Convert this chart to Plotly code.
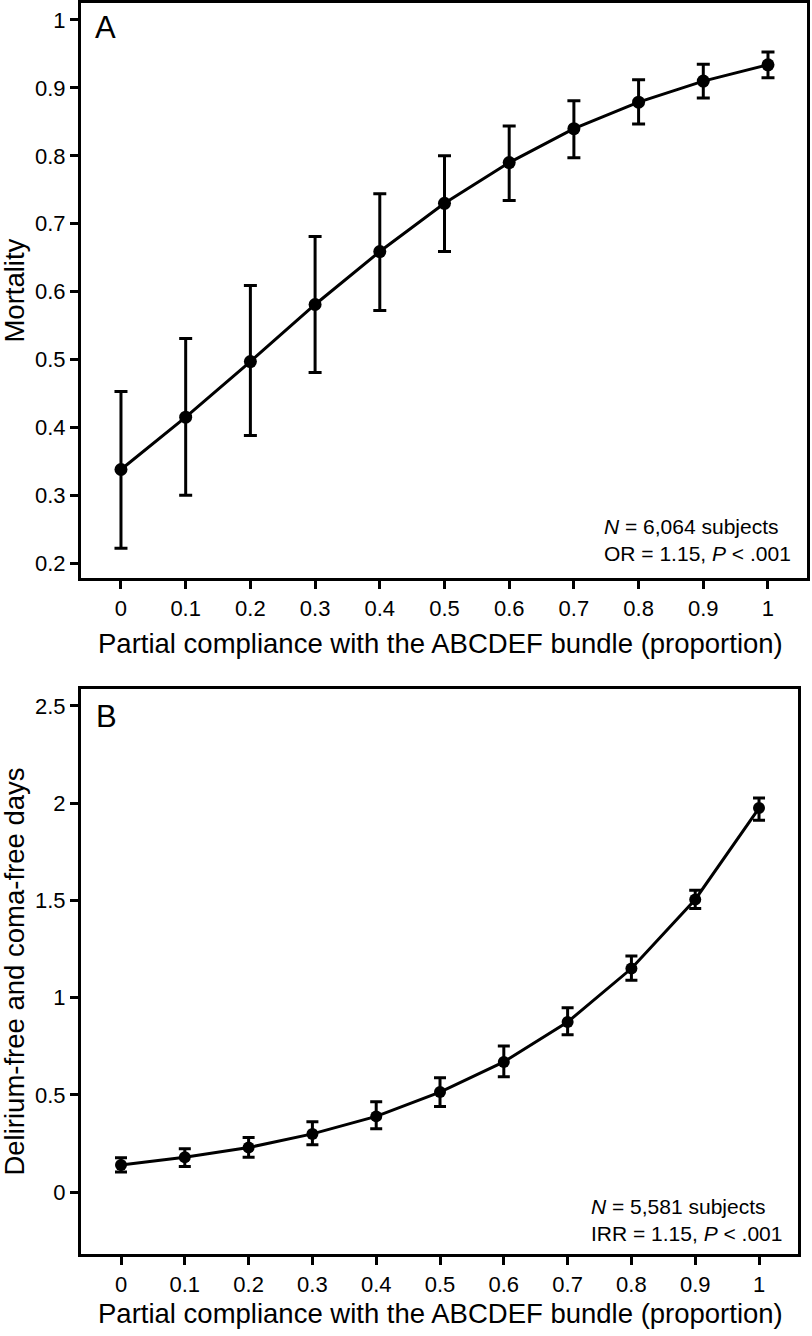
import plotly.graph_objects as go

# ---------------- data ----------------
compliance = [0, 0.1, 0.2, 0.3, 0.4, 0.5, 0.6, 0.7, 0.8, 0.9, 1.0]
x_tick_labels = ["0", "0.1", "0.2", "0.3", "0.4", "0.5", "0.6", "0.7", "0.8", "0.9", "1"]

mort_mean = [0.338, 0.415, 0.497, 0.581, 0.659, 0.730, 0.790, 0.840, 0.879, 0.910, 0.934]
mort_upper = [0.453, 0.531, 0.609, 0.681, 0.744, 0.800, 0.844, 0.881, 0.912, 0.935, 0.953]
mort_lower = [0.222, 0.300, 0.388, 0.481, 0.572, 0.659, 0.734, 0.797, 0.847, 0.885, 0.915]
mort_ticks = [0.2, 0.3, 0.4, 0.5, 0.6, 0.7, 0.8, 0.9, 1.0]
mort_tick_labels = ["0.2", "0.3", "0.4", "0.5", "0.6", "0.7", "0.8", "0.9", "1"]

dcfd_mean = [0.140, 0.180, 0.230, 0.300, 0.390, 0.515, 0.670, 0.875, 1.150, 1.505, 1.975]
dcfd_upper = [0.178, 0.224, 0.282, 0.362, 0.465, 0.588, 0.752, 0.948, 1.215, 1.552, 2.027]
dcfd_lower = [0.104, 0.133, 0.180, 0.244, 0.327, 0.441, 0.594, 0.809, 1.090, 1.458, 1.912]
dcfd_ticks = [0, 0.5, 1.0, 1.5, 2.0, 2.5]
dcfd_tick_labels = ["0", "0.5", "1", "1.5", "2", "2.5"]

x_title = "Partial compliance with the ABCDEF bundle (proportion)"
y_title_a = "Mortality"
y_title_b = "Delirium-free and coma-free days"
note_a = "<i>N</i> = 6,064 subjects<br>OR = 1.15, <i>P</i> &lt; .001"
note_b = "<i>N</i> = 5,581 subjects<br>IRR = 1.15, <i>P</i> &lt; .001"

# ---------------- figure ----------------
W, H = 812, 1336
FONT = "Liberation Sans, Arial, Helvetica, sans-serif"


def px_x(p):
    return p / W


def px_y(p):
    return 1 - p / H


fig = go.Figure()

fig.add_trace(go.Scatter(
    x=compliance, y=mort_mean, mode="lines+markers",
    line=dict(color="black", width=3),
    marker=dict(color="black", size=13),
    error_y=dict(type="data", symmetric=False,
                 array=[u - m for u, m in zip(mort_upper, mort_mean)],
                 arrayminus=[m - l for m, l in zip(mort_mean, mort_lower)],
                 color="black", thickness=3, width=6.5),
    xaxis="x", yaxis="y", showlegend=False, hoverinfo="skip"))

fig.add_trace(go.Scatter(
    x=compliance, y=dcfd_mean, mode="lines+markers",
    line=dict(color="black", width=3),
    marker=dict(color="black", size=12),
    error_y=dict(type="data", symmetric=False,
                 array=[u - m for u, m in zip(dcfd_upper, dcfd_mean)],
                 arrayminus=[m - l for m, l in zip(dcfd_mean, dcfd_lower)],
                 color="black", thickness=3, width=6),
    xaxis="x2", yaxis="y2", showlegend=False, hoverinfo="skip"))

axis_common = dict(showline=True, linecolor="black", linewidth=3, mirror=True,
                   ticks="outside", ticklen=8, tickwidth=3, tickcolor="black",
                   showgrid=False, zeroline=False,
                   tickfont=dict(family=FONT, size=22, color="black"))

fig.update_layout(
    width=W, height=H,
    margin=dict(l=0, r=0, t=0, b=0),
    paper_bgcolor="white", plot_bgcolor="white",
    font=dict(family=FONT, color="black"),
    xaxis=dict(domain=[px_x(81), px_x(807)], range=[-0.0618, 1.0603],
               tickvals=compliance, ticktext=x_tick_labels, anchor="y", **axis_common),
    yaxis=dict(domain=[px_y(577), px_y(1.5)], range=[0.178, 1.0243],
               tickvals=mort_ticks, ticktext=mort_tick_labels, anchor="x", **axis_common),
    xaxis2=dict(domain=[px_x(81), px_x(798)], range=[-0.0627, 1.0611],
                tickvals=compliance, ticktext=x_tick_labels, anchor="y2", **axis_common),
    yaxis2=dict(domain=[px_y(1254), px_y(688)], range=[-0.318, 2.587],
                tickvals=dcfd_ticks, ticktext=dcfd_tick_labels, anchor="x2", **axis_common),
)

ann = []
# x-axis titles
ann.append(dict(text=x_title, x=px_x(440), y=px_y(642), xref="paper", yref="paper",
                xanchor="center", yanchor="middle", showarrow=False,
                font=dict(family=FONT, size=27.5, color="black")))
ann.append(dict(text=x_title, x=px_x(440), y=px_y(1313), xref="paper", yref="paper",
                xanchor="center", yanchor="middle", showarrow=False,
                font=dict(family=FONT, size=27.5, color="black")))
# y-axis titles
ann.append(dict(text=y_title_a, x=px_x(15), y=px_y(289), xref="paper", yref="paper",
                xanchor="center", yanchor="middle", textangle=-90, showarrow=False,
                font=dict(family=FONT, size=27.5, color="black")))
ann.append(dict(text=y_title_b, x=px_x(15), y=px_y(971), xref="paper", yref="paper",
                xanchor="center", yanchor="middle", textangle=-90, showarrow=False,
                font=dict(family=FONT, size=27.5, color="black")))
# panel letters
ann.append(dict(text="A", x=px_x(105), y=px_y(26), xref="paper", yref="paper",
                xanchor="center", yanchor="middle", showarrow=False,
                font=dict(family=FONT, size=31, color="black")))
ann.append(dict(text="B", x=px_x(106.5), y=px_y(716), xref="paper", yref="paper",
                xanchor="center", yanchor="middle", showarrow=False,
                font=dict(family=FONT, size=31, color="black")))
# statistics notes
ann.append(dict(text=note_a, x=px_x(602), y=px_y(538.5), xref="paper", yref="paper",
                xanchor="left", yanchor="middle", align="left", showarrow=False,
                font=dict(family=FONT, size=21, color="black")))
ann.append(dict(text=note_b, x=px_x(589), y=px_y(1219.5), xref="paper", yref="paper",
                xanchor="left", yanchor="middle", align="left", showarrow=False,
                font=dict(family=FONT, size=21, color="black")))
fig.update_layout(annotations=ann)

fig.write_html("out.html",
               config={"displayModeBar": False, "staticPlot": True},
               post_script="document.body.style.margin='0';document.body.style.overflow='hidden';")
